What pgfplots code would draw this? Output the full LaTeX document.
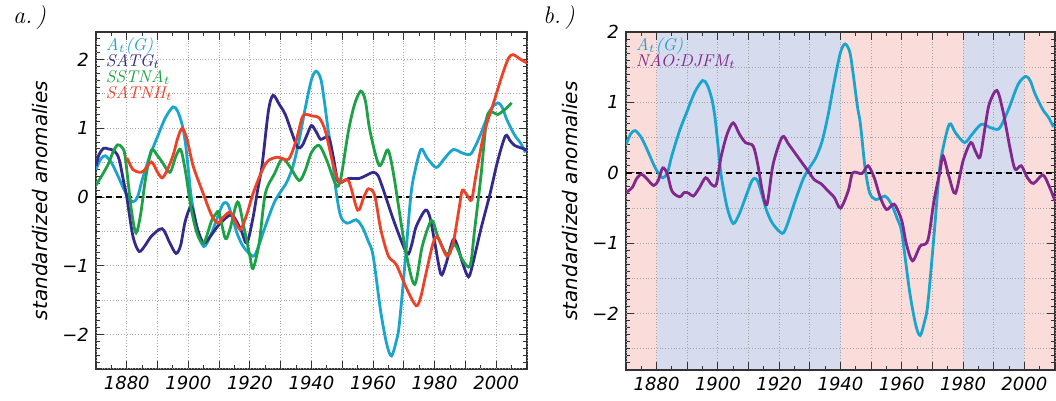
\documentclass[border=0pt]{standalone}
\usepackage{fontspec}
\usepackage{pgfplots}
\pgfplotsset{compat=1.18}
\newfontfamily\dejavu{DejaVu Sans}

\definecolor{cAG}{RGB}{25,165,205}
\definecolor{cSATG}{RGB}{50,42,140}
\definecolor{cSSTNA}{RGB}{30,160,70}
\definecolor{cSATNH}{RGB}{238,66,40}
\definecolor{cNAO}{RGB}{128,40,140}
\definecolor{pinkbg}{RGB}{250,220,218}
\definecolor{bluebg}{RGB}{215,219,238}

% A_t(G), used in both panels
\pgfplotstableread{
year val
1870 0.40
1871.5 0.55
1873 0.60
1875 0.50
1877 0.32
1879 0.12
1880.5 0.0
1882 -0.07
1883.5 0.0
1885 0.25
1887.5 0.6
1890 0.88
1892.5 1.15
1895 1.31
1896.5 1.25
1898 1.05
1899 0.80
1900 0.40
1901 -0.02
1903 -0.49
1905 -0.72
1907 -0.58
1909 -0.35
1911 -0.12
1912 -0.08
1913 -0.12
1914.5 -0.33
1916 -0.55
1918 -0.73
1921 -0.86
1922.5 -0.75
1924.5 -0.49
1926 -0.30
1928 -0.07
1930 0.08
1932 0.22
1934 0.45
1936 0.83
1938 1.30
1940 1.71
1941.5 1.83
1943 1.72
1944 1.45
1945.5 0.95
1946.5 0.69
1948 0.08
1949.5 -0.28
1951.5 -0.38
1954.5 -0.33
1956 -0.40
1957 -0.48
1958.5 -0.65
1960 -0.85
1962.5 -1.67
1964.5 -2.15
1966 -2.31
1967.5 -2.10
1968.5 -1.86
1970.5 -0.90
1972 -0.10
1973 0.25
1975.5 0.69
1977.5 0.57
1980.5 0.43
1983 0.55
1986 0.69
1989 0.64
1991.5 0.62
1993 0.72
1995 0.92
1998 1.26
2000.5 1.37
2002 1.30
2003.5 1.12
2006 0.90
2008 0.78
2009.5 0.65
}\agtab

\pgfplotstableread{
year val
1870 0.45
1871 0.62
1872.5 0.71
1874 0.70
1876 0.67
1877.5 0.55
1879 0.22
1880 0.0
1882 -0.57
1884 -0.79
1886 -0.70
1888 -0.57
1891.5 -0.46
1894 -0.67
1896 -0.82
1897.5 -0.70
1899 -0.35
1901 -0.14
1903 -0.47
1905 -0.67
1907.5 -0.55
1910 -0.40
1914 -0.26
1917 -0.47
1919 -0.67
1921 -0.30
1922.5 0.10
1924 0.48
1926 1.25
1927.5 1.48
1929.5 1.35
1931.5 1.20
1933.5 0.95
1935.5 0.72
1937 0.75
1938.5 0.90
1940 1.04
1941.5 0.95
1943 0.84
1945.5 0.87
1947 0.60
1948.5 0.24
1950 0.22
1952 0.27
1955.5 0.27
1958 0.32
1960 0.36
1961.5 0.32
1963 0.15
1967 -0.38
1971 -0.82
1972.5 -0.70
1974 -0.43
1977 -0.19
1978.5 -0.30
1980 -0.65
1982 -1.12
1983.5 -1.00
1986 -0.62
1987.5 -0.72
1989 -0.95
1991 -1.16
1992.5 -0.95
1995 -0.47
1998 0.05
2000.5 0.53
2003 0.89
2004.5 0.82
2006 0.75
2009 0.70
2010 0.68
}\satgtab

\pgfplotstableread{
year val
1870 0.17
1872 0.32
1874 0.48
1875.5 0.65
1877 0.76
1878.5 0.72
1879.5 0.58
1881.5 -0.19
1883 -0.52
1884.5 -0.25
1886 0.24
1888 0.68
1890 0.60
1891.5 0.51
1894 0.36
1896 0.60
1897.5 0.69
1899 0.39
1901 -0.19
1903 -0.55
1905 -0.67
1907.5 -0.35
1909 -0.24
1910 -0.23
1912 -0.60
1913.5 -0.47
1916 -0.07
1918 -0.43
1920 -0.86
1921 -1.04
1923 -0.67
1925 0.05
1928 0.34
1930.5 0.56
1933 0.44
1936 0.24
1938 0.39
1940 0.65
1942.5 0.75
1945 0.53
1948 0.17
1949.5 0.27
1952 0.96
1954 1.35
1956 1.54
1957.5 1.40
1959 0.96
1962 0.46
1964.5 0.68
1965.5 0.60
1967 0.24
1970.5 -0.76
1973.5 -1.27
1976 -0.71
1979 -0.34
1981 -0.57
1984 -0.83
1986.5 -0.69
1989 -0.91
1991.5 -1.00
1993 -0.47
1995 0.29
1997 1.16
1999 1.23
2000.5 1.20
2003 1.28
2005 1.37
}\sstnatab

\pgfplotstableread{
year val
1880 0.57
1881 0.48
1882 0.40
1884 0.36
1885.5 0.38
1888 0.51
1890 0.36
1891.5 0.28
1893 0.38
1895 0.60
1896.5 0.85
1898 1.00
1899.5 0.85
1901 0.55
1902 0.39
1905 0.03
1907.5 -0.26
1909.5 -0.38
1911 -0.31
1913.5 -0.22
1915.5 -0.38
1917 -0.47
1919 -0.25
1921 0.05
1924 0.39
1926 0.53
1929 0.58
1932.5 0.55
1935 0.82
1937 1.16
1938.5 1.20
1940 1.18
1942.5 1.15
1944.5 0.96
1947 0.48
1949 0.22
1952 0.24
1955 -0.19
1957 0.00
1958.5 0.12
1960.5 0.03
1962.5 -0.47
1965 -0.86
1967.5 -0.98
1971 -1.34
1974 -1.58
1975.5 -1.45
1977 -1.15
1979.5 -0.67
1981 -0.59
1984 -0.86
1986 -0.67
1988 -0.15
1989 0.10
1990.5 0.03
1992 -0.04
1993.5 0.34
1996 0.92
1999 1.35
2002 1.78
2004 2.02
2005.5 2.07
2008 2.00
2010 1.95
}\satnhtab

\pgfplotstableread{
year val
1870 -0.28
1872 -0.21
1873.5 -0.08
1875 -0.02
1876.5 -0.07
1879 -0.18
1880.5 -0.11
1882 0.07
1883.5 -0.02
1885 -0.26
1887.5 -0.34
1889 -0.28
1890.5 -0.29
1892 -0.33
1894 -0.21
1896 -0.07
1898 -0.17
1899.5 -0.16
1901 0.22
1903 0.55
1905 0.71
1907 0.55
1909 0.43
1911.5 0.38
1913 0.12
1914.5 -0.26
1916 -0.45
1918 0.12
1921 0.51
1923 0.41
1926 0.23
1929 0.05
1931.5 -0.10
1933.5 -0.15
1936 -0.26
1938 -0.35
1940 -0.50
1942.5 -0.26
1944 0.00
1947 -0.01
1949 0.10
1951 -0.07
1953 -0.35
1955 -0.52
1957 -0.45
1958 -0.47
1960 -0.68
1961.5 -1.01
1963.5 -1.25
1966 -1.04
1968.5 -0.96
1970.5 -0.40
1972.5 0.03
1973.5 0.24
1975.5 -0.07
1977.5 -0.29
1980 0.17
1982.5 0.43
1984 0.31
1985.5 0.22
1987 0.60
1988.5 0.97
1991 1.17
1993 0.88
1995.5 0.31
1997 0.05
1999 0.10
2001 -0.07
2003 -0.15
2006 -0.03
2008 -0.18
2010 -0.40
}\naotab

\newcommand{\tickfont}{\dejavu\itshape\fontsize{9}{10}\selectfont}
\newcommand{\legfont}{\itshape\fontsize{8.5}{8}\selectfont\lineskiplimit=-10pt\relax}

\pgfplotsset{
  anom/.style={
    scale only axis,
    xmin=1870, xmax=2010,
    xtick={1880,1900,...,2000},
    xticklabels={\tickfont 1880,\tickfont 1900,\tickfont 1920,\tickfont 1940,
      \tickfont 1960,\tickfont 1980,\tickfont 2000},
    extra x ticks={1870,1890,...,2010},
    extra x tick labels={},
    extra x tick style={grid=major},
    minor xtick={1870,1875,...,2010},
    ytick={-2,-1,0,1,2},
    yticklabels={\tickfont −2,\tickfont −1,\tickfont 0,\tickfont 1,\tickfont 2},
    extra y ticks={-2.5,-1.5,-0.5,0.5,1.5},
    extra y tick labels={},
    extra y tick style={grid=major, major tick length=2.2pt},
    grid=major,
    major grid style={densely dotted, black!35, line width=0.5pt},
    tick align=inside, major tick length=4pt, minor tick length=2.2pt,
    axis line style={black!80, line width=0.6pt},
    every tick/.style={black!80, line width=0.5pt},
    ylabel={standardized anomalies},
    every axis y label/.style={at={(axis description cs:-0.13,0.5)}, rotate=90,
      anchor=center, font=\dejavu\itshape\fontsize{10}{12}\selectfont},
    every axis plot/.append style={line width=1.4pt, smooth, no markers},
  },
  bands/.style={
    scale only axis, hide axis, xmin=1870, xmax=2010,
    every axis plot/.append style={draw=none, sharp plot, no markers},
  },
}

\begin{document}
\begin{tikzpicture}

% panel a
\begin{axis}[anom, at={(48pt,16pt)}, anchor=south west,
  width=215.5pt, height=168.5pt, ymin=-2.5, ymax=2.4,
  minor ytick={-2.5,-2.4,...,2.4}]
\addplot[black, sharp plot, line width=0.7pt, dash pattern=on 3pt off 2pt] coordinates {(1870,0) (2010,0)};
\addplot[cAG] table[x=year, y=val] {\agtab};
\addplot[cSATG] table[x=year, y=val] {\satgtab};
\addplot[cSSTNA] table[x=year, y=val] {\sstnatab};
\addplot[cSATNH] table[x=year, y=val] {\satnhtab};
\node[anchor=north west, align=left, inner sep=0pt, font=\legfont]
  at (rel axis cs:0.022,0.985)
  {\textcolor{cAG}{A$_t$(G)}\\ \textcolor{cSATG}{SATG$_t$}\\
   \textcolor{cSSTNA}{SSTNA$_t$}\\ \textcolor{cSATNH}{SATNH$_t$}};
\end{axis}

% panel b: shaded periods, drawn first so the grid lies over them
\begin{axis}[bands, at={(313pt,15.5pt)}, anchor=south west,
  width=214.5pt, height=169pt, ymin=-2.8, ymax=2]
\addplot[fill=pinkbg] coordinates {(1870,-2.8) (1880,-2.8) (1880,2) (1870,2)};
\addplot[fill=bluebg] coordinates {(1880,-2.8) (1940,-2.8) (1940,2) (1880,2)};
\addplot[fill=pinkbg] coordinates {(1940,-2.8) (1980,-2.8) (1980,2) (1940,2)};
\addplot[fill=bluebg] coordinates {(1980,-2.8) (2000,-2.8) (2000,2) (1980,2)};
\addplot[fill=pinkbg] coordinates {(2000,-2.8) (2010,-2.8) (2010,2) (2000,2)};
\end{axis}

\begin{axis}[anom, at={(313pt,15.5pt)}, anchor=south west,
  width=214.5pt, height=169pt, ymin=-2.8, ymax=2,
  minor ytick={-2.8,-2.7,...,2}]
\addplot[black, sharp plot, line width=0.7pt, dash pattern=on 3pt off 2pt] coordinates {(1870,0) (2010,0)};
\addplot[cAG] table[x=year, y=val] {\agtab};
\addplot[cNAO] table[x=year, y=val] {\naotab};
\node[anchor=north west, align=left, inner sep=0pt, font=\legfont]
  at (rel axis cs:0.022,0.985)
  {\textcolor{cAG}{A$_t$(G)}\\ \textcolor{cNAO}{NAO:DJFM$_t$}};
\end{axis}

\node[anchor=west, font=\itshape\fontsize{12}{13}\selectfont] at (3pt,191.5pt) {a.\,)};
\node[anchor=west, font=\itshape\fontsize{12}{13}\selectfont] at (268pt,191.5pt) {b.\,)};

\pgfresetboundingbox
\path[use as bounding box] (0,0) rectangle (528pt,200.5pt);
\end{tikzpicture}
\end{document}
